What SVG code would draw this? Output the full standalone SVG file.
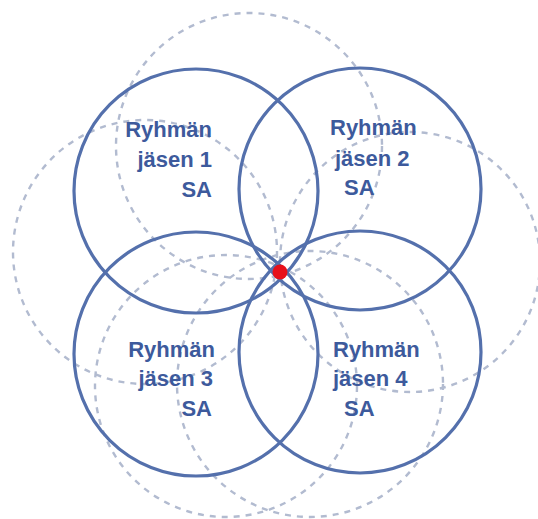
<svg xmlns="http://www.w3.org/2000/svg" width="538" height="519" viewBox="0 0 538 519">
<style>
.bg{fill:#ffffff}
.dash{fill:none;stroke:#b2bbd0;stroke-width:2.4;stroke-dasharray:6 6}
.solid{fill:none;stroke:#5470ac;stroke-width:3.2}
.lbl{font-family:"Liberation Sans",Arial,sans-serif;font-weight:bold;font-size:22px;fill:#3d5a9c}
</style>
<rect class="bg" x="0" y="0" width="538" height="519"/>
<g id="connectors">
<circle class="dash" cx="249" cy="146" r="133"/>
<circle class="dash" cx="145" cy="252" r="132"/>
<circle class="dash" cx="410" cy="262" r="130"/>
<circle class="dash" cx="226" cy="386" r="131"/>
<circle class="dash" cx="310" cy="384" r="133"/>
</g>
<g id="member1">
<circle class="solid" cx="196" cy="191" r="122"/>
<text class="lbl" x="212" y="137" text-anchor="end">Ryhmän</text>
<text class="lbl" x="212" y="167" text-anchor="end">jäsen 1</text>
<text class="lbl" x="212" y="197" text-anchor="end">SA</text>
</g>
<g id="member2">
<circle class="solid" cx="360" cy="189" r="121"/>
<text class="lbl" x="330" y="135">Ryhmän</text>
<text class="lbl" x="335" y="166">jäsen 2</text>
<text class="lbl" x="344" y="195">SA</text>
</g>
<g id="member3">
<circle class="solid" cx="196" cy="354" r="122"/>
<text class="lbl" x="215" y="357" text-anchor="end">Ryhmän</text>
<text class="lbl" x="213" y="386" text-anchor="end">jäsen 3</text>
<text class="lbl" x="212" y="416" text-anchor="end">SA</text>
</g>
<g id="member4">
<circle class="solid" cx="360" cy="352" r="121"/>
<text class="lbl" x="333" y="357">Ryhmän</text>
<text class="lbl" x="333" y="386">jäsen 4</text>
<text class="lbl" x="344" y="416">SA</text>
</g>
<g id="center">
<circle cx="280" cy="272" r="7.5" fill="#e8101a"/>
</g>
</svg>
